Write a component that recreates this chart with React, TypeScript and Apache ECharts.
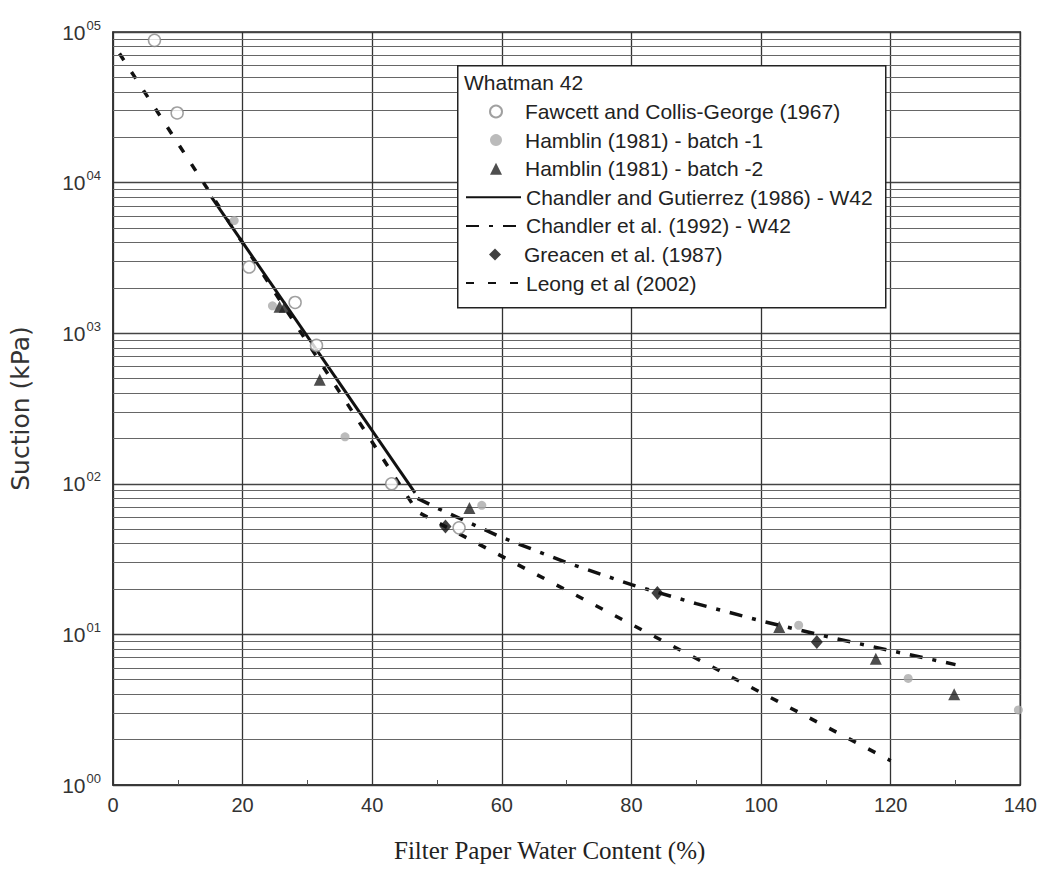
import React, { useEffect, useRef } from "react";
import * as echarts from "echarts";

// ---- data ----
const xTicks = [0, 20, 40, 60, 80, 100, 120, 140];
const decades = [1, 10, 100, 1000, 10000];
const minorMultipliers = [2, 3, 4, 5, 6, 7, 8, 9];

const fawcett: [number, number][] = [
  [6.4, 88000], [9.9, 29000], [21.0, 2750], [28.1, 1600], [31.4, 830], [43.0, 100], [53.4, 51],
];
const hamblin1: [number, number][] = [
  [18.7, 5600], [24.6, 1520], [35.8, 205], [56.9, 72], [105.8, 11.5], [122.7, 5.1], [139.7, 3.15],
];
const hamblin2: [number, number][] = [
  [25.7, 1500], [26.5, 1500], [31.9, 490], [55.0, 69], [102.8, 11.2], [117.7, 6.9], [129.8, 4.0],
];
const greacen: [number, number][] = [
  [51.3, 52], [84.0, 18.8], [108.6, 8.9],
];
const chandlerGutierrez: [number, number][] = [
  [15.2, 8000], [46.6, 87],
];
const chandler1992: [number, number][] = [
  [47, 80], [50, 69], [60, 44], [70, 30], [80, 21.4], [90, 16], [100, 12.3], [110, 9.7], [120, 7.8], [130, 6.3],
];
const leong: [number, number][] = [
  [1, 72000], [47, 65], [120, 1.45],
];

const names = {
  fawcett: "Fawcett and Collis-George (1967)",
  hamblin1: "Hamblin (1981) - batch -1",
  hamblin2: "Hamblin (1981) - batch -2",
  cg: "Chandler and Gutierrez (1986) - W42",
  c92: "Chandler et al. (1992) - W42",
  greacen: "Greacen et al. (1987)",
  leong: "Leong et al (2002)",
};

const legendText = { fontFamily: "Liberation Sans", fontSize: 21, color: "#222" };
const ROW = 28.6;
const FIRST_TOP = 96;

export default function App() {
  const ref = useRef<HTMLDivElement>(null);
  useEffect(() => {
    document.body.style.margin = "0";
    const chart = echarts.init(ref.current!, null, { renderer: "svg" });
    const minorValues = decades.flatMap((d) => minorMultipliers.map((m) => d * m));
    const markerLegend = (items: string[], row: number) => ({
      orient: "vertical",
      left: 484,
      top: FIRST_TOP + row * ROW,
      itemWidth: 12,
      itemHeight: 12,
      itemGap: ROW - 21,
      selectedMode: false,
      z: 20,
      data: items,
      textStyle: { ...legendText, padding: [0, 0, 0, 18] },
    });
    const lineLegend = (items: string[], row: number) => ({
      orient: "vertical",
      left: 460,
      top: FIRST_TOP + row * ROW,
      itemWidth: 55,
      itemHeight: 14,
      itemGap: ROW - 21,
      selectedMode: false,
      z: 20,
      data: items.map((n) => ({ name: n, itemStyle: { opacity: 0 } })),
      textStyle: { ...legendText, padding: [0, 0, 0, 0] },
    });
    chart.setOption({
      animation: false,
      backgroundColor: "#fff",
      grid: { left: 100, right: 18, top: 32, bottom: 89, show: true, borderColor: "#222", borderWidth: 1.5 },
      xAxis: {
        type: "value",
        min: xTicks[0],
        max: xTicks[xTicks.length - 1],
        interval: 20,
        name: "Filter Paper Water Content (%)",
        nameLocation: "middle",
        nameGap: 53,
        nameTextStyle: { fontFamily: "Liberation Serif", fontSize: 25, color: "#222", padding: [0, 34, 0, 0] },
        axisLine: { show: true, lineStyle: { color: "#333", width: 1.5 } },
        axisTick: { show: true, inside: true, length: 5, lineStyle: { color: "#333" } },
        minorTick: { show: true, splitNumber: 2, length: 5, lineStyle: { color: "#555" } },
        axisLabel: { fontFamily: "Liberation Sans", fontSize: 20, color: "#333", margin: 10 },
        splitLine: { show: true, lineStyle: { color: "#333", width: 1.3 } },
      },
      yAxis: {
        type: "log",
        logBase: 10,
        min: 1,
        max: 100000,
        name: "Suction (kPa)",
        nameLocation: "middle",
        nameGap: 80,
        nameRotate: 90,
        nameTextStyle: { fontFamily: "DejaVu Sans", fontSize: 25, color: "#333" },
        axisLine: { show: true, lineStyle: { color: "#333", width: 1.5 } },
        axisTick: { show: false },
        axisLabel: {
          margin: 12,
          formatter: (v: number) => "{b|10}{s|0" + Math.round(Math.log10(v)) + "}",
          rich: {
            b: { fontFamily: "Liberation Sans", fontSize: 21, color: "#333" },
            s: { fontFamily: "Liberation Sans", fontSize: 13, color: "#333", padding: [0, 0, 14, 1] },
          },
        },
        splitLine: { show: true, lineStyle: { color: "#444", width: 1.3 } },
      },
      legend: [
        markerLegend([names.fawcett, names.hamblin1, names.hamblin2], 0),
        lineLegend([names.cg, names.c92], 3),
        markerLegend([names.greacen], 5),
        lineLegend([names.leong], 6),
      ],
      graphic: [
        {
          type: "rect",
          left: 457,
          top: 65,
          z: 10,
          shape: { width: 428, height: 242 },
          style: { fill: "#fff", stroke: "#222", lineWidth: 1.5 },
        },
        {
          type: "text",
          left: 464,
          top: 72,
          z: 21,
          style: { text: "Whatman 42", font: '21px "Liberation Sans"', fill: "#222" },
        },
      ],
      series: [
        {
          type: "line",
          name: "_minorgrid",
          data: [],
          silent: true,
          z: 1,
          markLine: {
            silent: true,
            symbol: ["none", "none"],
            label: { show: false },
            lineStyle: { color: "#666", width: 1.2, type: "solid" },
            data: minorValues.map((v) => ({ yAxis: v })),
          },
        },
        {
          type: "line",
          name: names.leong,
          data: leong,
          symbol: "none",
          z: 3,
          itemStyle: { color: "#111" },
          lineStyle: { color: "#111", width: 3.5, type: [8, 14] },
        },
        {
          type: "line",
          name: names.c92,
          data: chandler1992,
          symbol: "none",
          z: 3,
          itemStyle: { color: "#111" },
          lineStyle: { color: "#111", width: 3.5, type: [13, 10, 4, 10] },
        },
        {
          type: "line",
          name: names.cg,
          data: chandlerGutierrez,
          symbol: "none",
          z: 3,
          itemStyle: { color: "#111" },
          lineStyle: { color: "#111", width: 3, type: "solid" },
        },
        {
          type: "scatter",
          name: names.fawcett,
          data: fawcett,
          symbol: "circle",
          symbolSize: 12,
          z: 5,
          itemStyle: { color: "#fff", borderColor: "#888", borderWidth: 1.5 },
        },
        {
          type: "scatter",
          name: names.hamblin1,
          data: hamblin1,
          symbol: "circle",
          symbolSize: 9,
          z: 5,
          itemStyle: { color: "#aaa" },
        },
        {
          type: "scatter",
          name: names.hamblin2,
          data: hamblin2,
          symbol: "triangle",
          symbolSize: 12,
          z: 5,
          itemStyle: { color: "#222" },
        },
        {
          type: "scatter",
          name: names.greacen,
          data: greacen,
          symbol: "diamond",
          symbolSize: [12, 14],
          z: 5,
          itemStyle: { color: "#111" },
        },
      ],
    });
    return () => chart.dispose();
  }, []);
  return <div ref={ref} style={{ width: 1040, height: 874 }} />;
}
